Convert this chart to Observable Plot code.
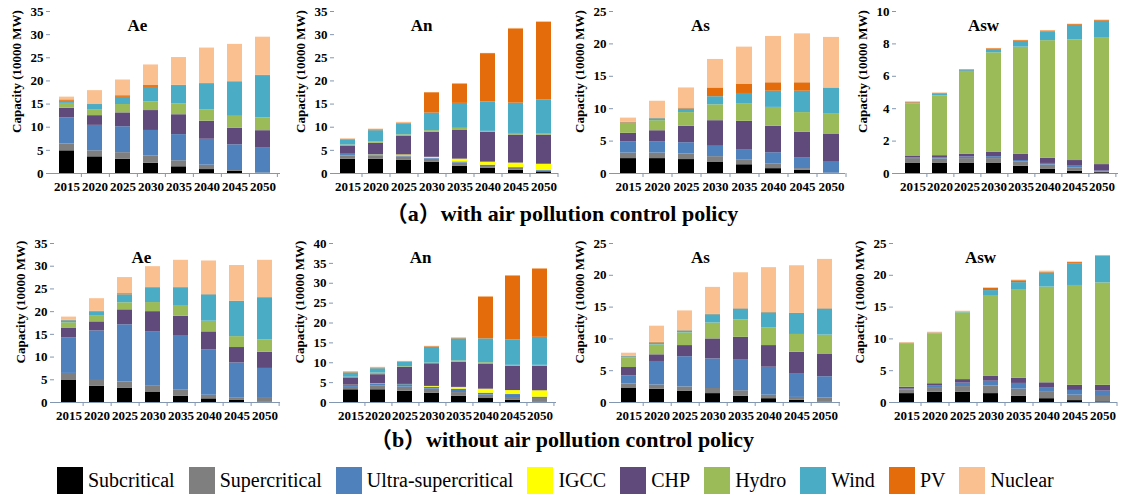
<!DOCTYPE html>
<html><head><meta charset="utf-8">
<script src="https://cdn.jsdelivr.net/npm/d3@7"></script>
<script src="https://cdn.jsdelivr.net/npm/@observablehq/plot@0.6"></script>
<style>
body{margin:0;background:#fff;}
#root{position:relative;width:1123px;height:495px;overflow:hidden;font-family:"Liberation Serif","Times New Roman","Noto Sans CJK SC",serif;}
.cap{position:absolute;left:0;width:1124px;text-align:center;font-weight:bold;font-size:22px;line-height:24px;color:#000;}
#legend{position:absolute;left:57px;top:467px;display:flex;align-items:center;font-size:20px;color:#000;}
#legend .it{display:flex;align-items:center;margin-right:14px;}
#legend .sw{width:26px;height:27px;margin-right:5px;}
</style></head><body><div id="root"></div>
<script>
const years = ["2015","2020","2025","2030","2035","2040","2045","2050"];
const categories = ["Subcritical","Supercritical","Ultra-supercritical","IGCC","CHP","Hydro","Wind","PV","Nuclear"];
const colors = ["#000000","#7f7f7f","#4f81bd","#ffff00","#604a7b","#9bbb59","#4bacc6","#e46c0a","#fac090"];

// (a) with air pollution control policy — rows follow categories order
const aAe = [
  [4.9,3.6,3.1,2.2,1.45,0.85,0.45,0],
  [1.45,1.3,1.4,1.55,1.3,0.95,0.2,0.1],
  [5.65,5.5,5.6,5.55,5.65,5.6,5.55,5.5],
  [0,0,0,0,0,0,0,0],
  [2.1,2.1,3.0,4.3,4.3,3.9,3.6,3.65],
  [1.05,1.3,1.8,1.9,2.3,2.4,2.55,2.75],
  [0.45,1.1,1.55,3.1,4.0,5.7,7.45,9.15],
  [0.3,0.1,0.35,0.4,0.05,0.05,0.05,0.05],
  [0.6,2.9,3.4,4.45,6.0,7.65,8.05,8.25]
];
const aAn = [
  [3.1,3.1,2.9,2.4,1.6,1.1,0.7,0.35],
  [0.7,0.7,0.7,0.7,0.65,0.4,0.45,0.15],
  [0.3,0.2,0.2,0.2,0.25,0.3,0.15,0.15],
  [0.05,0.05,0.2,0.2,0.6,0.65,0.95,1.35],
  [1.8,2.5,4.0,5.4,6.3,6.45,6.05,6.3],
  [0.2,0.25,0.35,0.35,0.35,0.2,0.35,0.2],
  [1.1,2.45,2.35,3.8,5.4,6.35,6.55,7.4],
  [0.1,0.2,0.2,4.4,4.2,10.45,16.05,16.8],
  [0.15,0.15,0.15,0.05,0.1,0.05,0.1,0.1]
];
const aAs = [
  [2.3,2.3,2.15,1.7,1.35,0.75,0.5,0],
  [0.85,0.85,0.85,0.9,0.7,0.7,0.25,0.05],
  [1.75,1.7,1.75,1.6,1.55,1.75,1.7,1.8],
  [0,0,0,0,0,0,0,0],
  [1.3,1.75,2.55,3.95,4.45,4.1,3.9,4.25],
  [1.4,1.55,2.1,2.45,2.65,2.9,3.05,3.05],
  [0.2,0.3,0.55,1.25,1.65,2.5,3.3,4.05],
  [0.1,0.1,0.15,1.35,1.45,1.3,1.3,0],
  [0.65,2.6,3.1,4.4,5.7,7.15,7.55,7.8]
];
const aAsw = [
  [0.62,0.62,0.62,0.62,0.45,0.25,0.15,0.05],
  [0.3,0.28,0.3,0.3,0.25,0.27,0.2,0.05],
  [0.05,0.05,0.1,0.12,0.1,0.1,0.1,0.05],
  [0,0,0,0,0,0,0,0],
  [0.08,0.15,0.18,0.26,0.4,0.33,0.35,0.4],
  [3.25,3.7,5.05,6.15,6.6,7.25,7.45,7.8],
  [0.05,0.1,0.1,0.2,0.35,0.55,0.9,1.05],
  [0.05,0.05,0.05,0.05,0.05,0.05,0.05,0.05],
  [0.02,0.02,0.02,0.02,0.02,0.02,0.02,0.02]
];
// (b) without air pollution control policy
const bAe = [
  [4.95,3.55,3.1,2.2,1.4,0.8,0.45,0.05],
  [1.45,1.3,1.4,1.5,1.4,0.8,0.6,0.85],
  [7.8,10.9,12.6,11.9,11.95,9.95,7.65,6.6],
  [0,0,0,0,0,0,0,0],
  [2.1,2.0,3.3,4.4,4.25,4.0,3.4,3.55],
  [1.25,1.25,1.55,2.0,2.35,2.35,2.4,2.75],
  [0.45,0.9,1.75,3.2,3.85,5.8,7.75,9.25],
  [0.1,0.2,0.25,0.2,0.2,0.05,0.05,0.05],
  [0.7,2.75,3.55,4.5,5.9,7.4,7.85,8.2]
];
const bAn = [
  [3.2,3.2,2.85,2.3,1.6,1.0,0.6,0.1],
  [0.6,0.9,1.0,1.05,0.9,0.85,0.65,0.9],
  [0.5,0.55,0.65,0.5,0.85,0.5,0.75,0.35],
  [0.05,0.05,0.05,0.2,0.45,1.0,1.0,1.6],
  [1.85,2.3,4.3,5.7,6.3,6.35,6.1,6.15],
  [0.15,0.4,0.15,0.15,0.35,0.3,0.25,0.25],
  [1.1,1.1,1.1,4.0,5.55,6.0,6.4,7.05],
  [0.2,0.2,0.15,0.15,0.15,10.55,16.1,17.2],
  [0.15,0.15,0.1,0.1,0.15,0.1,0.1,0.1]
];
const bAs = [
  [2.2,2.1,1.8,1.4,1.0,0.6,0.35,0.05],
  [0.7,0.65,0.65,0.8,0.85,0.55,0.45,0.65],
  [1.3,3.7,4.75,4.65,4.9,4.4,3.65,3.35],
  [0,0,0,0,0,0,0,0],
  [1.3,1.05,1.75,3.15,3.5,3.4,3.45,3.5],
  [1.5,1.55,2.0,2.5,2.75,2.75,2.8,3.05],
  [0.2,0.3,0.3,1.3,1.7,2.4,3.3,4.1],
  [0.05,0.1,0.05,0.05,0.05,0.05,0.05,0.05],
  [0.5,2.55,3.1,4.25,5.65,7.05,7.45,7.75]
];
const bAsw = [
  [1.4,1.6,1.6,1.4,1.0,0.6,0.3,0.1],
  [0.55,0.75,0.9,1.2,1.1,1.0,0.85,0.85],
  [0.15,0.3,0.55,0.75,0.9,0.65,0.75,0.85],
  [0,0,0,0,0,0,0,0],
  [0.3,0.3,0.55,0.75,0.8,0.85,0.8,0.9],
  [6.85,7.85,10.5,12.6,13.85,15.05,15.7,16.1],
  [0.05,0.1,0.1,0.9,1.2,2.2,3.35,4.25],
  [0.05,0.05,0.05,0.35,0.3,0.15,0.25,0.02],
  [0.05,0.1,0.1,0.1,0.1,0.15,0.1,0.05]
];

const regions = ["Ae","An","As","Asw"];
const axisMax = {a:[35,35,25,10], b:[35,40,25,25]};
const axisStep = {a:[5,5,5,2], b:[5,5,5,5]};
const captions = ["（a）with air pollution control policy","（b）without air pollution control policy"];
const yLabel = "Capacity (10000 MW)";

const layout = {
  a:{top:11,bottom:173,x:[[50,280],[334,558],[613,845],[896,1118]]},
  b:{top:243,bottom:402,x:[[54,280],[333,556],[613,840],[893,1117]]}
};
const axisColor = "#8497b0";
const font = '"Liberation Serif","Times New Roman",serif';
const root = document.getElementById("root");

function panel(name, series, row, idx){
  const rows = [];
  series.forEach((s,i)=>s.forEach((v,j)=>rows.push({year:years[j],cat:categories[i],value:v})));
  const [x0,x1] = layout[row].x[idx];
  const yt = layout[row].top, yb = layout[row].bottom;
  const L = x1-x0, H = yb-yt;
  const ml=48, mr=8, mt=8, mb=30;
  const step = L/8;
  const max = axisMax[row][idx], st = axisStep[row][idx];
  const chart = Plot.plot({
    width: ml+L+mr, height: mt+H+mb,
    marginLeft: ml, marginRight: mr, marginTop: mt, marginBottom: mb,
    style:{fontFamily:font, fontSize:"13px", fontWeight:"bold", color:"#000", background:"transparent", overflow:"visible"},
    x:{domain:years, paddingInner:0.46, paddingOuter:0.23, axis:null},
    y:{domain:[0,max], axis:null},
    color:{domain:categories, range:colors},
    marks:[
      Plot.barY(rows,{x:"year", y:"value", fill:"cat"}),
      Plot.ruleY([0],{stroke:axisColor, strokeWidth:1.2}),
      Plot.axisY({ticks:d3.range(0,max+1e-9,st), tickSize:4, tickPadding:3, stroke:axisColor, line:true, label:null, fontWeight:"bold"}),
      Plot.axisX({tickSize:0, tickPadding:8, label:null, fontWeight:"bold"}),
      Plot.axisX({tickSize:4, tickFormat:()=>"", dx:step/2, stroke:axisColor, label:null}),
      Plot.text([name],{text:d=>d, frameAnchor:"top-left", dx:87, dy:14, fontSize:17, fontWeight:"bold", lineAnchor:"middle", textAnchor:"middle"}),
      Plot.text([yLabel],{text:d=>d, frameAnchor:"left", rotate:-90, dx:-34, dy:-21, fontSize:13, fontWeight:"bold", textAnchor:"middle", lineAnchor:"middle"})
    ]
  });
  chart.style.position="absolute";
  chart.style.left=(x0-ml)+"px";
  chart.style.top=(yt-mt)+"px";
  root.appendChild(chart);
}

[aAe,aAn,aAs,aAsw].forEach((s,i)=>panel(regions[i], s, "a", i));
[bAe,bAn,bAs,bAsw].forEach((s,i)=>panel(regions[i], s, "b", i));

const capTops = [202, 428];
captions.forEach((c,i)=>{
  const d=document.createElement("div");
  d.className="cap"; d.textContent=c; d.style.top=capTops[i]+"px";
  root.appendChild(d);
});

const leg=document.createElement("div"); leg.id="legend";
categories.forEach((c,i)=>{
  const it=document.createElement("div"); it.className="it";
  const sw=document.createElement("div"); sw.className="sw"; sw.style.background=colors[i];
  const t=document.createElement("span"); t.textContent=c;
  it.appendChild(sw); it.appendChild(t); leg.appendChild(it);
});
root.appendChild(leg);
</script></body></html>
